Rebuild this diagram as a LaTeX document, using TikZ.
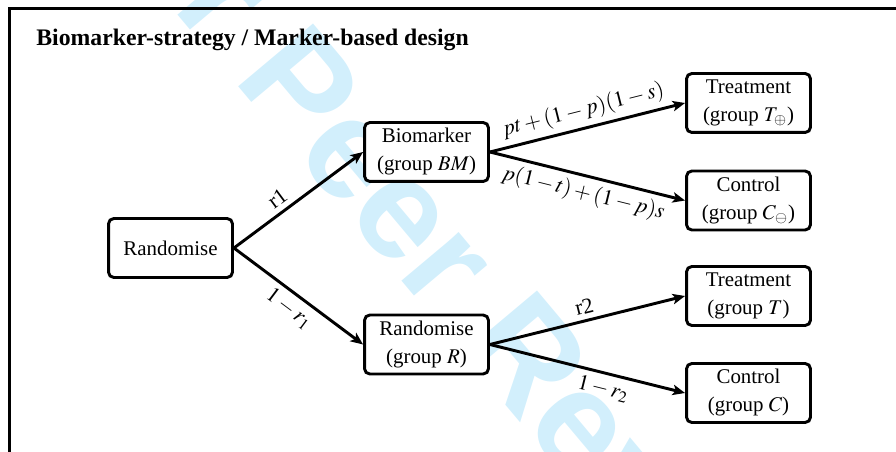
\documentclass[tikz,border=0pt]{standalone}
\usepackage{mathptmx}
\usepackage{fontspec}
\setmainfont{Liberation Serif}
\newfontfamily\wmfont{Liberation Sans}
\usepackage{xcolor}
\usetikzlibrary{arrows.meta}

\definecolor{wmark}{RGB}{210,239,252}

\begin{document}
\begin{tikzpicture}[
    x=0.4785pt, y=-0.4785pt,
    font=\fontsize{10}{13.4}\selectfont,
    groupBox/.style={
        rectangle, rounded corners=2.5pt, draw=black, line width=1.4pt,
        fill=white, minimum width=59.3pt, minimum height=28.2pt, align=center, inner sep=2pt
    },
    branchEdge/.style={
        -{Stealth[length=6pt, width=5pt, inset=1.5pt]}, line width=1.4pt, draw=black
    },
    probLabel/.style={
        sloped, inner sep=2.5pt, font=\fontsize{10.5}{12}\selectfont
    }
]
\useasboundingbox (0,0) rectangle (896,452);

% Background: watermark and frame
\node[anchor=base west, inner sep=0pt, rotate=-50, text=wmark,
      font=\wmfont\bfseries\fontsize{68}{80}\selectfont] (stamp) at (60,-126) {For Peer Review};
\draw[line width=1.4pt] (9.5,480) -- (9.5,8.5) -- (920,8.5);

% Title
\node[anchor=base west, inner sep=0pt, font=\bfseries\fontsize{11.35}{13}\selectfont] (title) at (36,46)
    {Biomarker-strategy / Marker-based design};

% Level 0: first randomisation
\node[groupBox] (rand) at (170.5,248) {Randomise};

% Level 1: biomarker arm and randomised arm
\node[groupBox] (bm) at (426.5,152) {Biomarker\\(group $BM$)};
\node[groupBox] (randR) at (426.5,344.5) {Randomise\\(group $R$)};

\draw[branchEdge] (rand.east) -- node[probLabel, pos=0.4, above] {r1} (bm.west);
\draw[branchEdge] (rand.east) -- node[probLabel, below] {$1-r_1$} (randR.west);

% Level 2: treatment and control groups
\node[groupBox] (treatPos) at (748.5,103) {Treatment\\(group $T_{\oplus}$)};
\node[groupBox] (ctrlNeg) at (748.5,200.5) {Control\\(group $C_{\ominus}$)};
\node[groupBox] (treat) at (748.5,296) {Treatment\\(group $T$)};
\node[groupBox] (ctrl) at (748.5,393) {Control\\(group $C$)};

\draw[branchEdge] (bm.east) -- node[probLabel, above] {$pt+(1-p)(1-s)$} (treatPos.west);
\draw[branchEdge] (bm.east) -- node[probLabel, below] {$p(1-t)+(1-p)s$} (ctrlNeg.west);
\draw[branchEdge] (randR.east) -- node[probLabel, above] {r2} (treat.west);
\draw[branchEdge] (randR.east) -- node[probLabel, pos=0.6, below] {$1-r_2$} (ctrl.west);

\end{tikzpicture}
\end{document}
